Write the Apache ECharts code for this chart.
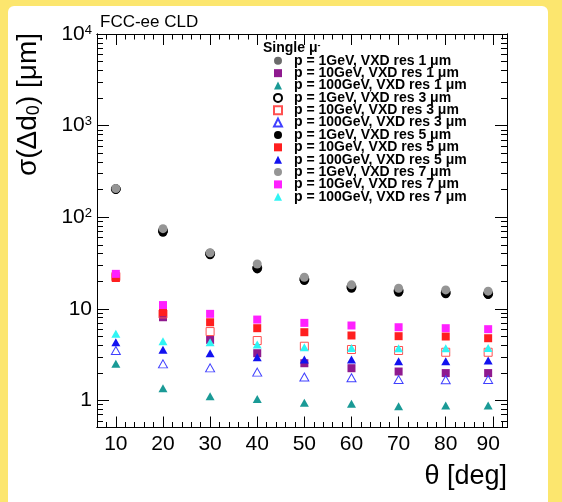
<!DOCTYPE html>
<html><head><meta charset="utf-8">
<script src="https://cdn.jsdelivr.net/npm/echarts@6/dist/echarts.min.js"></script>
<style>
html,body{margin:0;padding:0;background:#fce66e;width:562px;height:502px;overflow:hidden}
#bg{position:absolute;left:8px;top:6px;width:540px;height:496px;background:#fff;border-top-left-radius:6px;border-top-right-radius:6px}
#chart{position:absolute;left:0;top:0;width:562px;height:502px}
</style></head><body><div id="bg"></div><div id="chart"></div>
<script>
// ---- data ----
const theta = [10, 20, 30, 40, 50, 60, 70, 80, 89];
const thetaLabels = ['10', '20', '30', '40', '50', '60', '70', '80', '90'];
const xMajorTicks = [10, 20, 30, 40, 50, 60, 70, 80, 90];
const yMajorTicks = [1, 10, 100, 1000, 10000];
const yTickLabels = ['1', '10', '10{s|2}', '10{s|3}', '10{s|4}'];
const yMinorTicks = [0.6, 0.7, 0.8, 0.9, 2, 3, 4, 5, 6, 7, 8, 9, 20, 30, 40, 50, 60, 70, 80, 90,
  200, 300, 400, 500, 600, 700, 800, 900, 2000, 3000, 4000, 5000, 6000, 7000, 8000, 9000];

// 1 GeV (circles)
const p1_res1 = [203, 72, 40, 28.5, 21.2, 17.6, 16.0, 15.3, 14.9];
const p1_res3 = [203, 71, 40, 28.0, 21.0, 17.3, 15.7, 15.0, 14.6];
const p1_res5 = [202, 68.5, 39, 27.3, 20.4, 16.8, 15.2, 14.6, 14.3];
const p1_res7 = [206, 75, 41, 30.9, 22.1, 18.3, 16.8, 16.1, 15.6];
// 10 GeV (squares)
const p10_res1 = [22.0, 8.1, 4.59, 3.28, 2.55, 2.25, 2.07, 1.99, 1.99];
const p10_res3 = [22.5, 8.8, 5.65, 4.51, 3.91, 3.60, 3.51, 3.36, 3.36];
const p10_res5 = [21.7, 9.18, 7.14, 6.15, 5.56, 5.12, 5.03, 4.99, 4.78];
const p10_res7 = [24.1, 11.0, 8.82, 7.64, 7.03, 6.58, 6.30, 6.15, 6.00];
// 100 GeV (triangles)
const p100_res1 = [2.51, 1.36, 1.11, 1.04, 0.944, 0.92, 0.867, 0.88, 0.88];
const p100_res3 = [3.51, 2.51, 2.27, 2.04, 1.80, 1.77, 1.69, 1.68, 1.69];
const p100_res5 = [4.32, 3.57, 3.28, 2.97, 2.80, 2.80, 2.68, 2.68, 2.73];
const p100_res7 = [5.34, 4.43, 4.32, 4.08, 3.81, 3.75, 3.72, 3.72, 3.75];

const seriesNames = [
  'p = 1GeV, VXD res 1 μm', 'p = 10GeV, VXD res 1 μm', 'p = 100GeV, VXD res 1 μm',
  'p = 1GeV, VXD res 3 μm', 'p = 10GeV, VXD res 3 μm', 'p = 100GeV, VXD res 3 μm',
  'p = 1GeV, VXD res 5 μm', 'p = 10GeV, VXD res 5 μm', 'p = 100GeV, VXD res 5 μm',
  'p = 1GeV, VXD res 7 μm', 'p = 10GeV, VXD res 7 μm', 'p = 100GeV, VXD res 7 μm'
];
const seriesValues = [p1_res1, p10_res1, p100_res1, p1_res3, p10_res3, p100_res3,
  p1_res5, p10_res5, p100_res5, p1_res7, p10_res7, p100_res7];

// ---- styles ----
const FONT = "'Liberation Sans', Arial, Helvetica, sans-serif";
const styles = [
  {symbol: 'circle', size: 9, fill: '#6b6b6b'},
  {symbol: 'rect', size: 8, fill: '#8f1a8f'},
  {symbol: 'triangle', size: [9, 8], fill: '#1a9a96'},
  {symbol: 'circle', size: 9, open: '#000000'},
  {symbol: 'rect', size: 8, open: '#ff5050'},
  {symbol: 'triangle', size: [9, 8], open: '#4040ff'},
  {symbol: 'circle', size: 9, fill: '#000000'},
  {symbol: 'rect', size: 8, fill: '#ff1f1f'},
  {symbol: 'triangle', size: [9, 8], fill: '#1212f0'},
  {symbol: 'circle', size: 9, fill: '#959595'},
  {symbol: 'rect', size: 8, fill: '#ff20ff'},
  {symbol: 'triangle', size: [9, 8], fill: '#30f4f4'}
];

const series = seriesNames.map((name, i) => {
  const st = styles[i];
  const itemStyle = st.open
    ? {color: 'rgba(255,255,255,0)', borderColor: st.open, borderWidth: 1, opacity: 1}
    : {color: st.fill, borderWidth: 0, opacity: 1};
  return {
    name, type: 'scatter', xAxisIndex: 0, yAxisIndex: 0,
    symbol: st.symbol, symbolSize: st.size, itemStyle,
    emphasis: {disabled: true},
    data: theta.map((t, k) => [t, seriesValues[i][k]])
  };
});

const X_MIN = 6, X_MAX = 93, Y_MIN = 0.507, Y_MAX = 10000;
const axisLine = {show: true, onZero: false, lineStyle: {color: '#000', width: 1}};

function xAxis(position, major, labels) {
  return {
    type: 'value', position, min: X_MIN, max: X_MAX,
    interval: major ? undefined : 2,
    axisLine, splitLine: {show: false},
    axisTick: major
      ? {show: true, inside: true, length: 11, customValues: xMajorTicks, lineStyle: {color: '#000'}}
      : {show: true, inside: true, length: 5.5, lineStyle: {color: '#000'}},
    axisLabel: labels
      ? {show: true, customValues: theta, margin: 6, fontSize: 21, color: '#000', fontFamily: FONT,
         formatter: v => { const k = theta.indexOf(Math.round(v)); return k >= 0 ? thetaLabels[k] : ''; }}
      : {show: false}
  };
}
function yAxis(position, major, labels) {
  return {
    type: 'log', logBase: 10, position, min: Y_MIN, max: Y_MAX,
    axisLine, splitLine: {show: false}, minorTick: {show: false},
    axisTick: {show: true, inside: true, length: major ? 12 : 6,
      customValues: major ? yMajorTicks : yMinorTicks, lineStyle: {color: '#000'}},
    axisLabel: labels
      ? {show: true, customValues: yMajorTicks, margin: 5, color: '#000', fontFamily: FONT,
         formatter: v => { const k = Math.round(Math.log10(v)); return yTickLabels[k] || ''; },
         rich: {s: {fontSize: 13, lineHeight: 13, verticalAlign: 'top', fontFamily: FONT, color: '#000'}},
         fontSize: 21, lineHeight: 21}
      : {show: false}
  };
}

const chart = echarts.init(document.getElementById('chart'), null, {renderer: 'canvas'});
chart.setOption({
  animation: false,
  backgroundColor: 'transparent',
  grid: {left: 97, top: 34, right: 55, bottom: 74.5, containLabel: false},
  xAxis: [xAxis('bottom', true, true), xAxis('bottom', false, false), xAxis('top', true, false), xAxis('top', false, false)],
  yAxis: [yAxis('left', true, true), yAxis('left', false, false), yAxis('right', true, false), yAxis('right', false, false)],
  legend: {
    show: true, orient: 'vertical', left: 273, top: 53.8, padding: 0,
    itemWidth: 8, itemHeight: 8, itemGap: -1.64, selectedMode: false,
    data: seriesNames,
    textStyle: {fontSize: 14, fontWeight: 'bold', color: '#000', fontFamily: FONT, lineHeight: 12, padding: [0, 0, 0, 7]}
  },
  graphic: [
    {type: 'text', x: 100, y: 22, style: {text: 'FCC-ee CLD', font: '17px ' + FONT, fill: '#000', verticalAlign: 'middle', align: 'left'}},
    {type: 'text', x: 263, y: 48, style: {text: 'Single μ{s|-}', fontSize: 14, fontWeight: 'bold', fontFamily: FONT, fill: '#000',
      verticalAlign: 'middle', align: 'left', rich: {s: {fontSize: 9, fontWeight: 'bold', verticalAlign: 'top', lineHeight: 9}}}},
    {type: 'text', x: 507, y: 477, style: {text: 'θ [deg]', font: '27px ' + FONT, fill: '#000', verticalAlign: 'middle', align: 'right'}},
    {type: 'text', x: 28, y: 33, rotation: Math.PI / 2,
      style: {text: 'σ(Δd{sub|0}) [μm]', fontSize: 28, lineHeight: 30, fontFamily: FONT, fill: '#000', align: 'right', verticalAlign: 'middle',
        rich: {sub: {fontSize: 18, lineHeight: 18, padding: [12, 0, 0, 0], fontFamily: FONT}}}}
  ],
  series
});
</script></body></html>
